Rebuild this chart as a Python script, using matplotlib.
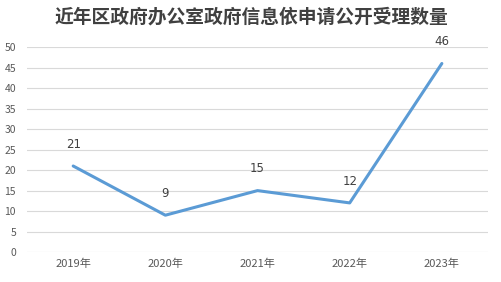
import matplotlib
matplotlib.use("Agg")
import matplotlib.pyplot as plt

plt.rcParams['font.family'] = ['Noto Sans CJK SC', 'DejaVu Sans']

# Datos
years = ["2019年", "2020年", "2021年", "2022年", "2023年"]
counts = [21, 9, 15, 12, 46]
title = "近年区政府办公室政府信息依申请公开受理数量"

fig = plt.figure(figsize=(5.02, 2.82), dpi=100)
ax = fig.add_axes([0.054, 0.106, 0.918, 0.727])

x = list(range(len(years)))
ax.plot(x, counts, color="#5B9BD5", linewidth=2.2, solid_capstyle="round")

for xi, v in zip(x, counts):
    ax.annotate(str(v), (xi, v), xytext=(0, 11), textcoords="offset points",
                ha="center", va="bottom", fontsize=8.5, color="#404040",
                family=['DejaVu Sans'])

ax.set_xlim(-0.5, len(years) - 0.5)
ax.set_ylim(0, 50)
ax.set_yticks(range(0, 51, 5))
ax.set_xticks(x)
ax.set_xticklabels(years)
ax.grid(axis="y", color="#D9D9D9", linewidth=0.8)
ax.set_axisbelow(True)
for s in ax.spines.values():
    s.set_visible(False)
ax.tick_params(axis="both", length=0, labelsize=7.5, colors="#595959")
ax.tick_params(axis="x", labelsize=8, pad=5)
ax.tick_params(axis="y", pad=8)

fig.suptitle(title, y=0.975, va="top", fontsize=13.5, fontweight="bold", color="#404040")

fig.savefig("out.png", dpi=100)
